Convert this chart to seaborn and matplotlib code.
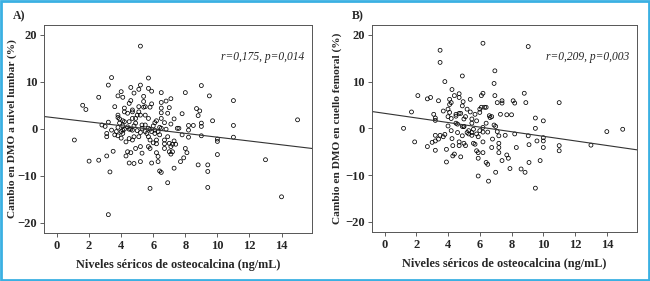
import numpy as np
import pandas as pd
import matplotlib
matplotlib.use("Agg")
import matplotlib.pyplot as plt
import seaborn as sns
from matplotlib.patches import Rectangle

# ---- Panel A: lumbar spine BMD change vs osteocalcin ----
a_x = [1.08, 1.6, 1.8, 2.6, 2.0, 2.6, 3.2, 3.4, 3.2, 3.3, 3.1, 3.5, 2.8, 3.0, 3.2, 3.1, 3.1, 3.4,
       3.6, 3.6, 3.8, 3.8, 3.8, 4.0, 4.1, 3.9, 3.9, 3.8, 3.7, 3.8, 4.0, 4.1, 4.1, 4.2, 4.2, 4.2,
       4.1, 4.3, 4.3, 4.4, 4.5, 4.6, 4.6, 4.5, 4.6, 4.7, 4.4, 4.5, 4.8, 4.7, 4.7, 4.8, 4.6, 4.5,
       4.7, 4.8, 4.9, 4.9, 4.9, 5.0, 5.1, 5.2, 5.2, 5.1, 5.1, 5.2, 5.3, 5.2, 5.1, 5.2, 5.2, 5.3,
       5.4, 5.4, 5.4, 5.5, 5.5, 5.5, 5.6, 5.7, 5.7, 5.8, 5.9, 5.7, 5.7, 5.8, 5.8, 5.7, 5.8, 5.9,
       5.8, 5.9, 6.0, 6.1, 6.1, 6.1, 6.2, 6.2, 6.0, 6.2, 6.3, 6.3, 6.4, 6.5, 6.5, 6.5, 6.5, 6.5,
       6.5, 6.4, 6.5, 6.7, 6.7, 6.7, 6.8, 6.7, 6.8, 6.9, 7.0, 7.1, 6.9, 7.0, 7.0, 6.9, 7.1, 7.1,
       7.2, 7.1, 7.2, 7.3, 7.3, 7.4, 7.3, 7.5, 7.6, 7.7, 7.8, 7.8, 7.9, 8.0, 8.0, 8.1, 8.2, 8.2,
       8.2, 8.5, 8.7, 8.8, 8.9, 8.8, 9.0, 9.0, 9.0, 9.0, 9.5, 9.4, 9.4, 9.4, 9.7, 10.0, 10.0,
       10.0, 11.0, 11.0, 11.0, 13.0, 14.0, 15.0,
       4.0, 4.1, 4.7, 4.8, 5.0, 5.3, 5.5, 5.7, 5.9, 6.3, 6.4, 6.2, 4.2, 4.4, 4.5]
a_y = [-2.4, 5.0, 4.1, 6.7, -6.9, -6.7, 9.3, 10.9, -18.3, -9.2, -5.8, -4.8, 0.8, 0.5, 1.4, -1.0,
       -1.7, -0.3, 4.7, -1.3, 2.4, 2.9, 7.0, 7.9, 6.7, 2.1, 1.2, 0.3, -0.6, -1.5, -2.0, -1.0, 1.7,
       1.5, 4.4, 3.6, 0.6, -2.8, -5.8, -4.9, -7.3, 8.8, 6.0, -0.1, -0.1, -0.3, 3.3, 5.4, 7.6, 4.0,
       3.6, -7.4, -5.1, -2.1, -2.4, -1.7, -4.2, 2.2, 1.2, 2.9, 8.4, 9.3, 17.6, 3.6, 4.7, 2.9, 0.8,
       -0.8, -1.7, -3.8, -7.0, -5.2, 6.9, 5.8, 4.6, 4.7, 2.9, -0.6, -1.0, 10.8, 8.6, 4.6, 5.3, 2.2,
       0.1, -0.1, -2.4, -3.8, -4.2, -7.3, -12.7, 8.0, 0.6, -0.3, -1.0, 1.3, 1.7, -3.2, -3.0, -5.1,
       -7.0, -5.9, -9.0, -9.3, 7.7, 5.6, 4.4, 3.4, 2.2, 0.3, 0.1, -2.4, -3.2, -4.2, 5.9, 1.3, -0.1,
       3.3, 4.5, 6.4, -1.7, -3.1, -4.9, -11.5, 1.0, -3.8, -3.3, -5.4, -4.9, 2.1, -2.6, -3.3, -8.4,
       0.1, 0.1, -7.0, 3.2, -1.3, -6.2, 7.7, -4.2, -5.1, 0.7, -0.3, -1.8, 0.7, 4.3, 2.8, 3.8, -7.7,
       9.2, 1.2, 0.5, -1.5, 7.0, -7.7, -9.1, -12.5, 1.7, -2.2, -2.7, -5.5, 6.0, 0.7, -1.8, -6.6,
       -14.5, 1.9,
       -0.6, -0.3, 2.2, 0.6, -0.4, 0.1, 0.8, -1.7, -0.6, -0.6, -1.3, -2.4, -0.1, 0.4, 1.5]

# ---- Panel B: femoral neck BMD change vs osteocalcin ----
b_x = [1.2, 1.7, 1.9, 2.1, 2.7, 2.9, 2.7, 3.1, 3.2, 3.2, 3.2, 3.2, 3.2, 3.0, 3.4, 3.4, 3.5, 3.5,
       3.8, 3.7, 3.5, 3.7, 3.8, 3.9, 3.9, 4.0, 4.0, 4.1, 4.1, 4.2, 4.25, 4.1, 4.2, 4.0, 4.2, 4.25,
       4.3, 4.3, 4.4, 4.4, 4.5, 4.5, 4.6, 4.6, 4.7, 4.7, 4.7, 4.7, 4.7, 4.8, 4.8, 4.9, 4.9, 4.95,
       4.9, 5.0, 5.0, 4.9, 5.0, 5.1, 5.0, 5.1, 5.2, 5.3, 5.3, 5.4, 5.4, 5.5, 5.5, 5.5, 5.5, 5.6,
       5.7, 5.7, 5.8, 5.8, 5.9, 5.8, 5.9, 5.9, 5.9, 6.0, 6.0, 6.1, 6.1, 6.2, 6.2, 6.2, 6.2, 6.2,
       6.2, 6.3, 6.4, 6.4, 6.5, 6.4, 6.5, 6.55, 6.6, 6.65, 6.75, 6.8, 6.75, 6.9, 6.95, 6.95, 6.9,
       7.0, 7.0, 7.1, 7.1, 7.2, 7.2, 7.2, 7.2, 7.3, 7.4, 7.4, 7.4, 7.6, 7.7, 7.7, 7.8, 7.9, 8.0,
       8.1, 8.2, 8.3, 8.2, 8.6, 8.8, 8.85, 8.9, 9.05, 9.05, 9.1, 9.1, 9.5, 9.5, 9.5, 9.6, 9.8,
       10.0, 10.0, 10.0, 10.0, 11.0, 11.0, 11.0, 13.0, 14.0, 15.0,
       4.5, 5.2, 5.6, 6.0]
b_y = [0.0, 3.5, -2.9, 7.0, 6.3, 6.6, -3.9, 3.0, 2.2, 1.7, -1.5, -2.7, -4.7, -3.0, -2.3, 5.9, 16.7,
       14.1, 10.0, 3.7, -1.5, -1.8, -1.3, -7.2, -4.5, 2.5, 4.1, 5.1, 6.2, 5.5, 8.3, 3.4, 2.1, 0.5,
       -0.5, -2.2, -3.7, -5.9, -5.5, 7.0, 3.0, 1.1, 0.9, -0.9, -2.9, -3.7, 7.4, 6.6, 3.2, 3.2, -6.1,
       11.2, 4.8, 5.7, 0.4, 0.4, 0.4, -1.6, -3.2, -3.7, 2.0, 2.5, 4.1, -0.5, -1.2, 6.2, 3.5, 2.0,
       1.1, -0.9, -1.5, -3.2, -3.4, 3.0, 1.6, -1.2, -1.8, -4.8, -5.2, -6.4, -10.2, 3.4, 4.1, 7.0,
       4.5, 18.2, 7.5, 0.2, -0.8, -2.9, -5.2, 4.5, 4.5, 1.1, -0.8, -7.3, -7.7, -11.3, 2.7, 2.3, 2.5,
       -2.3, -4.1, 9.6, 12.3, 7.0, 0.7, 0.4, -9.4, 5.5, -0.7, -1.6, -3.2, -5.2, -4.1, 3.0, 5.9, 5.4,
       -6.9, -1.5, 2.9, -5.7, -6.4, -8.6, 2.9, 5.9, 5.4, -4.1, -1.2, -8.7, 7.5, -9.4, 5.5, 17.5,
       -1.6, -3.5, -7.3, 2.2, 0.0, -12.8, -2.7, -6.9, 1.6, -2.0, -2.7, -4.1, 5.5, -3.7, -4.8, -3.6,
       -0.7, -0.2,
       2.6, -0.9, -0.2, -0.5]

# Fitted regression lines (values at the axis ends)
fit_x = [-0.8, 15.9]
fit_a = [2.6, -4.2]
fit_b = [3.6, -4.6]

x_ticks = [0, 2, 4, 6, 8, 10, 12, 14]
y_ticks = [-20, -10, 0, 10, 20]
x_label = "Niveles séricos de osteocalcina (ng/mL)"
y_label_a = "Cambio en DMO a nivel lumbar (%)"
y_label_b = "Cambio en DMO en cuello femoral (%)"
stat_a = "r=0,175, p=0,014"
stat_b = "r=0,209, p=0,003"

df_a = pd.DataFrame({"x": a_x, "y": a_y})
df_b = pd.DataFrame({"x": b_x, "y": b_y})
line_a = pd.DataFrame({"x": fit_x, "y": fit_a})
line_b = pd.DataFrame({"x": fit_x, "y": fit_b})

sns.set_style("white")
plt.rcParams["font.family"] = ["Liberation Serif", "DejaVu Serif"]

fig = plt.figure(figsize=(6.5, 2.81), dpi=100)
ax_a = fig.add_axes([0.068, 0.171, 0.412, 0.740])
ax_b = fig.add_axes([0.572, 0.174, 0.408, 0.737])

panels = [(ax_a, df_a, line_a, y_label_a, stat_a, -0.100),
          (ax_b, df_b, line_b, y_label_b, stat_b, -0.113)]
for ax, df, ln, ylab, stat, ylx in panels:
    sns.scatterplot(data=df, x="x", y="y", ax=ax, s=8, marker="o",
                    facecolors="none", edgecolor="black", linewidth=0.55)
    sns.lineplot(data=ln, x="x", y="y", ax=ax, color="#333333", linewidth=0.8)
    ax.set_xlim(-0.8, 15.9)
    ax.set_ylim(-22.2, 22.1)
    ax.set_xticks(x_ticks)
    ax.set_yticks(y_ticks)
    ax.tick_params(axis="both", direction="out", length=3, width=0.6, color="#444444",
                   labelsize=9, pad=2, bottom=True, left=True)
    for lbl in ax.get_xticklabels() + ax.get_yticklabels():
        lbl.set_fontweight("bold")
    ax.set_xlabel(x_label, fontsize=8.8, fontweight="bold", labelpad=5)
    ax.set_ylabel(ylab, fontsize=8.2, fontweight="bold")
    ax.yaxis.set_label_coords(ylx, 0.5)
    for sp in ax.spines.values():
        sp.set_visible(True)
        sp.set_color("#555555")
        sp.set_linewidth(0.7)
    ax.text(0.97, 0.845, stat, transform=ax.transAxes, ha="right", va="center",
            fontsize=8.3, style="italic")

fig.text(13 / 650, 1 - 16 / 281, "A)", fontsize=8.5, fontweight="bold", va="center", ha="left")
fig.text(352 / 650, 1 - 16 / 281, "B)", fontsize=8.5, fontweight="bold", va="center", ha="left")

fig.patches.append(Rectangle((0.002, 0.004), 0.996, 0.992, transform=fig.transFigure,
                             fill=False, edgecolor="#3ab0e2", linewidth=2.0))

fig.savefig("out.png", dpi=100)
